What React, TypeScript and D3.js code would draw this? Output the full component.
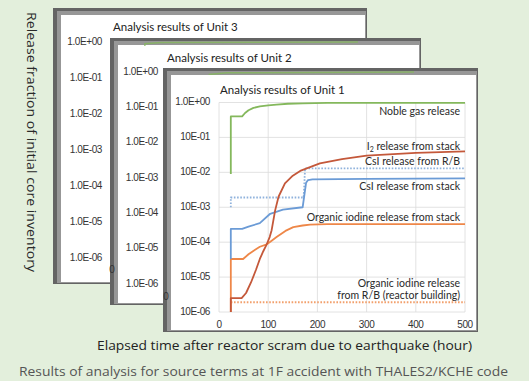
import React from "react";
import * as d3 from "d3";

// ---------- data ----------
const hourTicks = [0, 100, 200, 300, 400, 500];
const decadeTicks = [1, 1e-1, 1e-2, 1e-3, 1e-4, 1e-5, 1e-6];
const unit1TickLabels = ["1.0E+00", "10E-01", "10E-02", "10E-03", "10E-04", "10E-05", "10E-06"];
const unitOtherTickLabels = ["1.0E+00", "1.0E-01", "1.0E-02", "1.0E-03", "1.0E-04", "1.0E-05", "1.0E-06"];
const panelTitles = ["Analysis results of Unit 3", "Analysis results of Unit 2", "Analysis results of Unit 1"];

const nobleHours = [24, 24, 47, 53, 60, 70, 83, 100, 117, 140, 170, 220, 300, 400, 500];
const nobleValues = [0.009, 0.4, 0.4, 0.5, 0.6, 0.7, 0.77, 0.83, 0.87, 0.92, 0.95, 0.97, 0.98, 0.98, 0.98];

const i2Hours = [24, 24, 46, 55, 65, 75, 83, 90, 97, 103, 107, 114, 121, 134, 150, 165, 205, 250, 300, 400, 500];
const i2Values = [1e-6, 2.5e-6, 2.5e-6, 3.5e-6, 7e-6, 1.6e-5, 3.3e-5, 5.5e-5, 8.7e-5, 1.4e-4, 2.2e-4, 8e-4, 2e-3, 4.8e-3, 8e-3, 1.1e-2, 1.8e-2, 2.4e-2, 3e-2, 3.6e-2, 4e-2];

const csiRBHours = [24, 24, 172, 175, 500];
const csiRBValues = [1.0e-3, 1.9e-3, 1.9e-3, 1.3e-2, 1.3e-2];

const csiStackHours = [24, 24, 47, 60, 83, 104, 130, 170, 174, 177, 181, 190, 300, 500];
const csiStackValues = [3.3e-5, 2.4e-4, 2.4e-4, 2.8e-4, 3.5e-4, 6.5e-4, 8.5e-4, 1.0e-3, 2.5e-3, 5e-3, 6e-3, 6.3e-3, 6.5e-3, 6.7e-3];

const orgStackHours = [24, 24, 49, 60, 75, 83, 97, 105, 117, 135, 151, 170, 185, 220, 300, 500];
const orgStackValues = [1e-6, 3.3e-5, 3.3e-5, 4.5e-5, 6.3e-5, 7.4e-5, 8.7e-5, 1.05e-4, 1.4e-4, 2.1e-4, 2.7e-4, 3.0e-4, 3.2e-4, 3.3e-4, 3.3e-4, 3.3e-4];

const orgRBHours = [24, 500];
const orgRBValues = [1.9e-6, 1.9e-6];

const unit3NobleHours = [65, 67, 100, 500];
const unit3NobleValues = [0.3, 0.9, 0.97, 1.0];
const unit2NobleHours = [82, 84, 120, 500];
const unit2NobleValues = [0.3, 0.85, 0.95, 1.0];

const seriesLabels = [
  "Noble gas release",
  "I2 release from stack",
  "CsI release from R/B",
  "CsI release from stack",
  "Organic iodine release from stack",
  "Organic iodine release",
  "from R/B (reactor building)",
];

// ---------- layout ----------
const W = 529;
const H = 381;
const SANS = "Lato, 'Noto Sans', sans-serif";
const WIDE = "'Open Sans', 'Noto Sans', sans-serif";
const TICKFONT = "'Liberation Sans', Arial, sans-serif";

type Panel = { x0: number; y0: number; x1: number; y1: number; px0: number; top: number; bottom: number; labelRight: number; titleX: number; titleY: number };
const panels: Panel[] = [
  { x0: 53, y0: 8, x1: 367, y1: 284, px0: 112, top: 42, bottom: 258, labelRight: 102, titleX: 113, titleY: 31 },
  { x0: 110, y0: 38, x1: 421, y1: 305, px0: 168, top: 72, bottom: 284, labelRight: 158, titleX: 167, titleY: 62 },
  { x0: 163, y0: 68, x1: 478, y1: 332, px0: 219, top: 102.5, bottom: 312, labelRight: 210, titleX: 220, titleY: 94 },
];

function Frame({ p }: { p: Panel }) {
  const w = p.x1 - p.x0;
  const h = p.y1 - p.y0;
  return (
    <g>
      <rect x={p.x0} y={p.y0} width={w} height={h} fill="#646464" />
      <rect x={p.x0 + 4} y={p.y0 + 3} width={w - 5} height={h - 4} fill="#979797" />
      <rect x={p.x0 + 8} y={p.y0 + 7} width={w - 10} height={h - 9} fill="#ffffff" />
    </g>
  );
}

export default function App() {
  const p1 = panels[2];
  const x = d3.scaleLinear().domain([0, 500]).range([p1.px0, 465]);
  const y = d3.scaleLog().domain([1e-6, 1]).range([p1.bottom, p1.top]);

  const mk = (hs: number[], vs: number[], xs: d3.ScaleLinear<number, number>, ys: d3.ScaleLogarithmic<number, number>) =>
    d3.line<number>().x((_, i) => xs(hs[i])).y((_, i) => ys(vs[i])).curve(d3.curveLinear)(hs) || "";

  const series = [
    { h: nobleHours, v: nobleValues, c: "#84b85c", dash: undefined },
    { h: orgRBHours, v: orgRBValues, c: "#f2a06c", dash: "1.6,1.6" },
    { h: orgStackHours, v: orgStackValues, c: "#ee8748", dash: undefined },
    { h: csiRBHours, v: csiRBValues, c: "#8fb2dc", dash: "1.6,1.6" },
    { h: csiStackHours, v: csiStackValues, c: "#6b9bd6", dash: undefined },
    { h: i2Hours, v: i2Values, c: "#c4583a", dash: undefined },
  ];

  const sc = panels.map((p) => ({
    x: d3.scaleLinear().domain([0, 500]).range([p.px0, p.px0 + 246]),
    y: d3.scaleLog().domain([1e-6, 1]).range([p.bottom, p.top]),
  }));

  const labelX = 460;

  return (
    <svg width={W} height={H} style={{ position: "fixed", left: 0, top: 0, display: "block" }}>
      <defs>
        <clipPath id="clipU3">
          <rect x={112} y={panels[1].y0} width={255} height={8} />
        </clipPath>
        <clipPath id="clipU2">
          <rect x={168} y={panels[2].y0} width={253} height={7} />
        </clipPath>
      </defs>
      <rect x={0} y={0} width={W} height={H} fill="#e3efdc" />

      {/* Y axis title */}
      <text
        transform={`translate(30,142) rotate(90)`}
        textAnchor="middle"
        dominantBaseline="middle"
        fontFamily={WIDE}
        fontSize={12.5}
        textLength={260}
        lengthAdjust="spacingAndGlyphs"
        fill="#2a2a2a"
      >
        Release fraction of initial core inventory
      </text>

      {[0, 1].map((k) => {
        const p = panels[k];
        return (
          <g key={k}>
            <Frame p={p} />
            <text x={p.titleX} y={p.titleY} fontFamily={SANS} fontSize={11.5} fill="#222">
              {panelTitles[k]}
            </text>
            {decadeTicks.map((d, i) => (
              <text
                key={i}
                x={p.labelRight}
                y={sc[k].y(d)}
                textAnchor="end"
                dominantBaseline="middle"
                fontFamily={TICKFONT}
                fontSize={10}
                letterSpacing={-0.4}
                fill="#333"
              >
                {unitOtherTickLabels[i]}
              </text>
            ))}
          </g>
        );
      })}

      <Frame p={p1} />
      <text x={p1.titleX} y={p1.titleY} fontFamily={SANS} fontSize={11.5} fill="#222">
        {panelTitles[2]}
      </text>
      {decadeTicks.map((d, i) => (
        <line key={"h" + i} x1={x(0)} x2={x(500)} y1={y(d)} y2={y(d)} stroke="#dadada" strokeWidth={0.8} />
      ))}
      {hourTicks.map((t, i) => (
        <line key={"v" + i} x1={x(t)} x2={x(t)} y1={y(1)} y2={y(1e-6)} stroke="#dadada" strokeWidth={0.8} />
      ))}
      {decadeTicks.map((d, i) => (
        <text
          key={"yl" + i}
          x={p1.labelRight}
          y={y(d)}
          textAnchor="end"
          dominantBaseline="middle"
          fontFamily={TICKFONT}
          fontSize={10}
          letterSpacing={-0.4}
          fill="#333"
        >
          {unit1TickLabels[i]}
        </text>
      ))}
      {hourTicks.map((t, i) => (
        <text
          key={"xl" + i}
          x={x(t)}
          y={325}
          textAnchor="middle"
          dominantBaseline="middle"
          fontFamily={TICKFONT}
          fontSize={10}
          letterSpacing={-0.4}
          fill="#333"
        >
          {t}
        </text>
      ))}

      {series.map((s, i) => (
        <path
          key={"s" + i}
          d={mk(s.h, s.v, x, y)}
          fill="none"
          stroke={s.c}
          strokeWidth={1.8}
          strokeDasharray={s.dash}
          strokeLinejoin="round"
        />
      ))}

      <g fontFamily={SANS} fontSize={10.5} fill="#2a2a2a" textAnchor="end">
        <text x={labelX} y={114.5}>{seriesLabels[0]}</text>
        <text x={labelX} y={149.5}>
          I<tspan fontSize={7} dy={2}>2</tspan>
          <tspan dy={-2}>{seriesLabels[1].slice(2)}</tspan>
        </text>
        <text x={labelX} y={164.5}>{seriesLabels[2]}</text>
        <text x={labelX} y={189.5}>{seriesLabels[3]}</text>
        <text x={labelX} y={221}>{seriesLabels[4]}</text>
        <text x={labelX} y={286.5}>{seriesLabels[5]}</text>
        <text x={labelX} y={299}>{seriesLabels[6]}</text>
      </g>

      <path d={mk(unit3NobleHours, unit3NobleValues, sc[0].x, sc[0].y)} fill="none" stroke="#84b85c" strokeWidth={1.5} opacity={0.8} clipPath="url(#clipU3)" />
      <path d={mk(unit2NobleHours, unit2NobleValues, sc[1].x, sc[1].y)} fill="none" stroke="#84b85c" strokeWidth={1.5} opacity={0.8} clipPath="url(#clipU2)" />
      <text x={sc[0].x(0)} y={270} textAnchor="middle" dominantBaseline="middle" fontFamily={TICKFONT} fontSize={10} fill="#333">0</text>
      <text x={sc[1].x(0) - 2} y={297} textAnchor="middle" dominantBaseline="middle" fontFamily={TICKFONT} fontSize={10} fill="#333">0</text>

      <text x={284.5} y={349.5} textAnchor="middle" fontFamily={WIDE} fontSize={12.5} textLength={375} lengthAdjust="spacingAndGlyphs" fill="#222">
        Elapsed time after reactor scram due to earthquake (hour)
      </text>
      <text x={263.5} y={376} textAnchor="middle" fontFamily={WIDE} fontSize={12.5} textLength={489} lengthAdjust="spacingAndGlyphs" fill="#555">
        Results of analysis for source terms at 1F accident with THALES2/KCHE code
      </text>
    </svg>
  );
}
